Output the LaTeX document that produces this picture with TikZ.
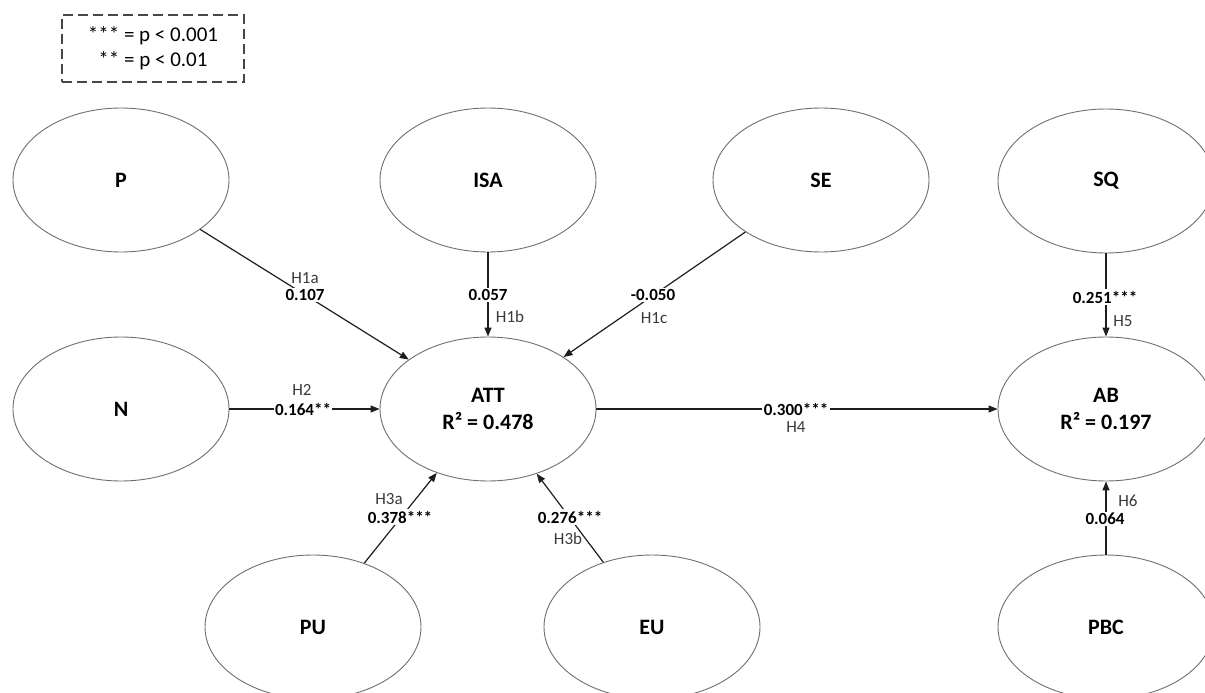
\documentclass[tikz,border=0pt]{standalone}
\usepackage{fontspec}
\setmainfont{Carlito}
\usetikzlibrary{shapes.geometric,arrows.meta}
\definecolor{rim}{HTML}{6E6E6E}
\definecolor{ink}{HTML}{1E1E1E}
\definecolor{hypink}{HTML}{3A3A3A}
\definecolor{keyrim}{HTML}{474747}
\begin{document}
\begin{tikzpicture}[x=1pt,y=-1pt,
  construct/.style={ellipse,draw=rim,line width=0.9pt,minimum width=216pt,
    minimum height=144pt,inner sep=0pt,align=center,
    font=\fontsize{22}{27}\selectfont\bfseries},
  link/.style={draw=ink,line width=1.2pt,-{Triangle[length=9pt,width=7pt]}},
  coef/.style={fill=white,inner sep=1.5pt,font=\fontsize{17}{18}\selectfont\bfseries},
  hypo/.style={text=hypink,inner sep=0pt,font=\fontsize{17}{18}\selectfont},
  keybox/.style={draw=keyrim,dash pattern=on 10pt off 5pt,line width=1.6pt,
    minimum width=182pt,minimum height=67pt,inner sep=0pt,align=center,
    font=\fontsize{21}{25}\selectfont}
]
\clip (0,0) rectangle (1205,693);

% significance key
\node[keybox] (key) at (153,48.5) {*** = p < 0.001\\** = p < 0.01};

% constructs
\node[construct] (P)   at (121,180)  {P};
\node[construct] (ISA) at (488,180)  {ISA};
\node[construct] (SE)  at (821,180)  {SE};
\node[construct] (SQ)  at (1106,181) {SQ};
\node[construct] (N)   at (121,409)  {N};
\node[construct] (ATT) at (488,409)  {ATT\\R² = 0.478};
\node[construct] (AB)  at (1106,409) {AB\\R² = 0.197};
\node[construct] (PU)  at (313,627)  {PU};
\node[construct] (EU)  at (652,627)  {EU};
\node[construct] (PBC) at (1106,627) {PBC};

% structural paths
\draw[link] (P)   -- (ATT);
\draw[link] (ISA) -- (ATT);
\draw[link] (SE)  -- (ATT);
\draw[link] (N)   -- (ATT);
\draw[link] (PU)  -- (ATT);
\draw[link] (EU)  -- (ATT);
\draw[link] (ATT) -- (AB);
\draw[link] (SQ)  -- (AB);
\draw[link] (PBC) -- (AB);

% path coefficients and hypotheses
\node[coef] at (305,295)  {0.107};     \node[hypo] at (305,278)  {H1a};
\node[coef] at (488,295)  {0.057};     \node[hypo] at (510,317)  {H1b};
\node[coef] at (653,295)  {-0.050};    \node[hypo] at (654,318)  {H1c};
\node[coef] at (303,409)  {0.164**};   \node[hypo] at (302,390)  {H2};
\node[coef] at (400,517)  {0.378***};  \node[hypo] at (389,499)  {H3a};
\node[coef] at (570,517)  {0.276***};  \node[hypo] at (568,539)  {H3b};
\node[coef] at (796,409)  {0.300***};  \node[hypo] at (796,427)  {H4};
\node[coef] at (1105,297) {0.251***};  \node[hypo] at (1123,321) {H5};
\node[coef] at (1105,519) {0.064};     \node[hypo] at (1128,501) {H6};
\end{tikzpicture}
\end{document}
